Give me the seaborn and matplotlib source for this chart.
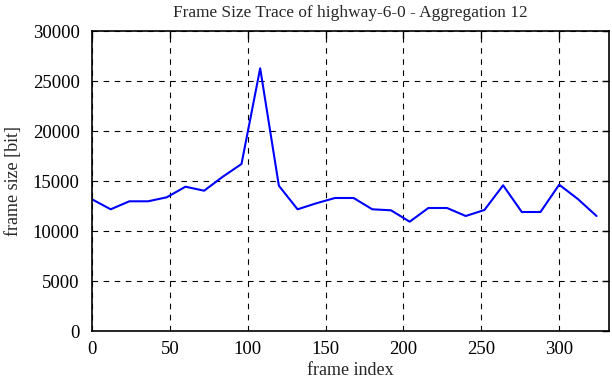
import matplotlib
matplotlib.use("Agg")
import matplotlib.pyplot as plt
import seaborn as sns
import pandas as pd

frame_index = [0, 12, 24, 36, 48, 60, 72, 84, 96, 108, 120, 132, 144, 156,
               168, 180, 192, 204, 216, 228, 240, 252, 264, 276, 288, 300, 312, 324]
frame_size = [13170, 12170, 12970, 12970, 13370, 14430, 14030, 15430, 16700, 26270,
              14530, 12170, 12770, 13300, 13300, 12170, 12070, 10930, 12300, 12300,
              11500, 12100, 14570, 11900, 11900, 14630, 13200, 11500]
x_ticks = [0, 50, 100, 150, 200, 250, 300]
y_ticks = [0, 5000, 10000, 15000, 20000, 25000, 30000]

sns.set_style("white")
plt.rcParams['font.family'] = ['Liberation Serif', 'DejaVu Serif']

df = pd.DataFrame({"frame index": frame_index, "frame size [bit]": frame_size})

fig = plt.figure(figsize=(6.12, 3.82), dpi=100)
ax = fig.add_axes([92/612, 1-331/382, (609-92)/612, 300/382])
sns.lineplot(data=df, x="frame index", y="frame size [bit]", ax=ax,
             color="#0000ff", linewidth=1.5)
ax.set_xlim(0, 332)
ax.set_ylim(0, 30000)
ax.set_xticks(x_ticks)
ax.set_yticks(y_ticks)
ax.grid(True, color="black", linestyle=(0, (5, 5)), linewidth=0.8)
for s in ax.spines.values():
    s.set_color("black")
    s.set_linewidth(1.2)
ax.tick_params(direction="in", length=5, width=1, color="black", labelsize=13.5,
               top=True, right=True, labelcolor="black")
ax.tick_params(axis="x", pad=7)
ax.tick_params(axis="y", pad=9)
ax.set_xlabel("frame index", fontsize=13, labelpad=3)
ax.set_ylabel("frame size [bit]", fontsize=13, labelpad=8)
ax.set_title("Frame Size Trace of highway-6-0 - Aggregation 12", fontsize=12.4, pad=10)
fig.savefig("out.png", dpi=100)
